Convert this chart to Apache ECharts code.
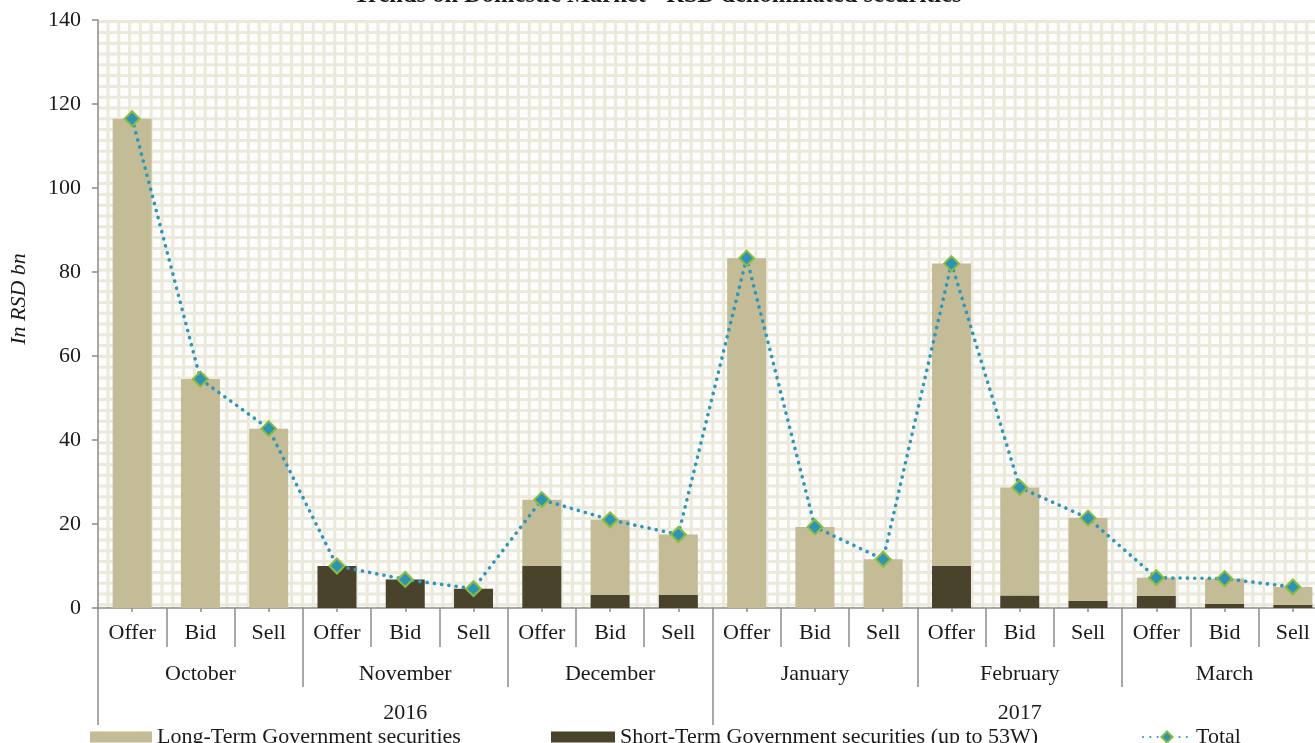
<!DOCTYPE html>
<html>
<head>
<meta charset="utf-8">
<script src="https://cdn.jsdelivr.net/npm/echarts@6/dist/echarts.min.js"></script>
<style>
  html, body { margin: 0; padding: 0; background: #fff; }
  #chart { width: 1315px; height: 743px; }
</style>
</head>
<body>
<div id="chart"></div>
<script>
// values (RSD bn)
var types = ['Offer', 'Bid', 'Sell'];
var months = ['October', 'November', 'December', 'January', 'February', 'March'];
var years = ['2016', '2017'];
var shortTerm = [0, 0, 0, 10, 6.8, 4.6, 10, 3.1, 3.1, 0, 0, 0, 10, 3.0, 1.7, 2.9, 1.0, 0.7];
var longTerm = [116.5, 54.5, 42.7, 0, 0, 0, 15.8, 17.9, 14.4, 83.3, 19.3, 11.6, 72.0, 25.7, 19.7, 4.3, 6.0, 4.3];
var total = [116.5, 54.5, 42.7, 10, 6.8, 4.6, 25.8, 21.0, 17.5, 83.3, 19.3, 11.6, 82.0, 28.7, 21.4, 7.2, 7.0, 5.0];

var categories = [];
months.forEach(function (m) {
  types.forEach(function (t) { categories.push(t); });
});

var FONT = "'Liberation Serif', 'Times New Roman', serif";
var FS = 22;

// checkered background of the plot area
var tile = document.createElement('canvas');
tile.width = 54; tile.height = 54;
var ctx = tile.getContext('2d');
ctx.fillStyle = '#fdfdfb';
ctx.fillRect(0, 0, 54, 54);
ctx.strokeStyle = '#ebe8dc';
ctx.lineWidth = 3;
for (var i = 0; i <= 5; i++) {
  var p = i * 10.8;
  ctx.beginPath(); ctx.moveTo(p, 0); ctx.lineTo(p, 54); ctx.stroke();
  ctx.beginPath(); ctx.moveTo(0, p); ctx.lineTo(54, p); ctx.stroke();
}

var chart = echarts.init(document.getElementById('chart'));
var axisGray = '#8c8c8c';
var txt = { fontFamily: FONT, fontSize: FS, color: '#1a1a1a' };
var hiddenLine = { show: true, lineStyle: { color: 'rgba(0,0,0,0)' } };

var option = {
  animation: false,
  textStyle: { fontFamily: FONT },
  title: {
    text: 'Trends on Domestic Market - RSD denominated securities',
    left: 'center',
    top: -17,
    padding: 0,
    textStyle: { fontFamily: FONT, fontSize: 24.5, fontWeight: 'bold', color: '#1a1a1a' }
  },
  grid: {
    left: 98,
    right: -12,
    top: 20,
    bottom: 135,
    outerBoundsMode: 'none',
    containLabel: false,
    show: true,
    borderWidth: 0,
    backgroundColor: { image: tile, repeat: 'repeat' }
  },
  legend: [
    {
      data: [{ name: 'Long-Term Government securities', icon: 'rect' }],
      left: 85, top: 721,
      itemWidth: 62, itemHeight: 11,
      textStyle: txt
    },
    {
      data: [{ name: 'Short-Term Government securities (up to 53W)', icon: 'rect' }],
      left: 546, top: 721,
      itemWidth: 64, itemHeight: 11,
      textStyle: txt
    },
    {
      data: ['Total'],
      left: 1137, top: 721,
      itemWidth: 48, itemHeight: 14,
      textStyle: txt
    }
  ],
  xAxis: [
    {
      type: 'category',
      position: 'bottom',
      data: categories,
      axisLine: { lineStyle: { color: axisGray, width: 1.5 } },
      axisTick: { show: true, alignWithLabel: true, length: 4, lineStyle: { color: axisGray, width: 1.5 } },
      axisLabel: Object.assign({ interval: 0, margin: 14 }, txt)
    },
    {
      type: 'category',
      position: 'bottom',
      offset: 0,
      data: categories,
      axisLine: hiddenLine,
      axisTick: { show: true, interval: 0, length: 39, lineStyle: { color: axisGray, width: 1.5 } },
      axisLabel: { show: false }
    },
    {
      type: 'category',
      position: 'bottom',
      offset: 0,
      data: months,
      axisLine: hiddenLine,
      axisTick: { show: true, interval: 0, length: 79, lineStyle: { color: axisGray, width: 1.5 } },
      axisLabel: Object.assign({ interval: 0, margin: 55 }, txt)
    },
    {
      type: 'category',
      position: 'bottom',
      offset: 0,
      data: years,
      axisLine: hiddenLine,
      axisTick: { show: true, interval: 0, length: 117, lineStyle: { color: axisGray, width: 1.5 } },
      axisLabel: Object.assign({ interval: 0, margin: 94 }, txt)
    }
  ],
  yAxis: {
    type: 'value',
    min: 0,
    max: 140,
    interval: 20,
    name: 'In RSD bn',
    nameLocation: 'middle',
    nameGap: 68,
    nameMoveOverlap: false,
    nameTextStyle: { fontFamily: FONT, fontSize: FS, fontStyle: 'italic', color: '#1a1a1a', padding: [0, 0, 0, 30] },
    axisLine: { show: true, lineStyle: { color: axisGray, width: 1.5 } },
    axisTick: { show: true, length: 6, lineStyle: { color: axisGray, width: 1.5 } },
    axisLabel: Object.assign({ margin: 17 }, txt),
    splitLine: { show: false }
  },
  series: [
    {
      name: 'Short-Term Government securities (up to 53W)',
      type: 'bar',
      stack: 'sec',
      barWidth: 39,
      data: shortTerm,
      itemStyle: { color: '#4a432b' }
    },
    {
      name: 'Long-Term Government securities',
      type: 'bar',
      stack: 'sec',
      barWidth: 39,
      data: longTerm,
      itemStyle: { color: '#c4bc96' }
    },
    {
      name: 'Total',
      type: 'line',
      data: total,
      symbol: 'diamond',
      symbolSize: 15,
      lineStyle: { color: '#2e96bd', width: 3.6, type: [0.1, 7.2], cap: 'round' },
      itemStyle: { color: '#2f93b7', borderColor: '#8cbd3c', borderWidth: 2 },
      z: 5
    }
  ]
};

chart.setOption(option);
</script>
</body>
</html>
